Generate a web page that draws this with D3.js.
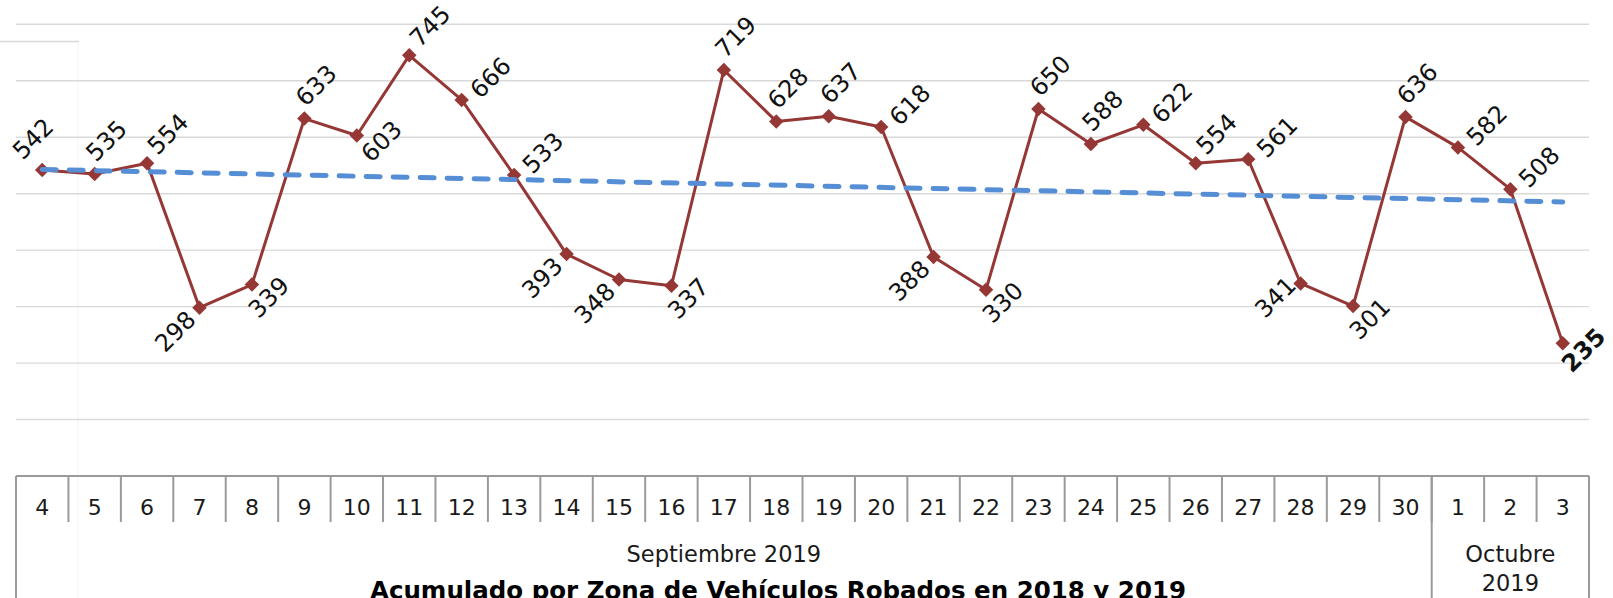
<!DOCTYPE html>
<html>
<head>
<meta charset="utf-8">
<script src="https://cdn.jsdelivr.net/npm/d3@7"></script>
<style>
  body { margin: 0; background: #fff; }
  svg { display: block; font-family: "DejaVu Sans", sans-serif; }
</style>
</head>
<body>
<div id="chart"></div>
<script>
// Days shown on the category axis (Sept 4 - Oct 3, 2019)
const days = [4, 5, 6, 7, 8, 9, 10, 11, 12, 13, 14, 15, 16, 17, 18, 19, 20,
              21, 22, 23, 24, 25, 26, 27, 28, 29, 30, 1, 2, 3];

// Robbed vehicles per day
const robos = [542, 535, 554, 298, 339, 633, 603, 745, 666, 533, 393, 348, 337,
               719, 628, 637, 618, 388, 330, 650, 588, 622, 554, 561, 341, 301,
               636, 582, 508, 235];

// Month groups under the day labels
const months = ['Septiembre 2019', 'Octubre 2019'];
const monthDays = [27, 3];

// Where each data label sits relative to its point
const labelSide = ['al', 'a', 'a2', 'bl', 'br', 'a', 'r', 'a2', 'ar', 'ar',
                   'bl', 'bl', 'br', 'a', 'a', 'a', 'ar', 'bl', 'br', 'a',
                   'a', 'ar', 'a2', 'ar', 'l', 'br', 'a', 'ar', 'ar', 'r2'];

const yTicks = [100, 200, 300, 400, 500, 600, 700, 800];

const title = 'Acumulado por Zona de Vehículos Robados en 2018 y 2019';

const width = 1613, height = 598;
const plot = { left: 16, right: 1589, top: 24.3, bottom: 476 };

const svg = d3.select('#chart').append('svg')
    .attr('width', width)
    .attr('height', height);

const x = d3.scaleBand()
    .domain(d3.range(days.length))
    .range([plot.left, plot.right])
    .padding(0);

const y = d3.scaleLinear()
    .domain([0, 800])
    .range([plot.bottom, plot.top]);

const cx = i => x(i) + x.bandwidth() / 2;

// stray frame from the slide, top-left corner
svg.append('line')
    .attr('x1', 0).attr('x2', 79).attr('y1', 41.5).attr('y2', 41.5)
    .style('stroke', '#d9d9d9').style('stroke-width', 1.5);
svg.append('line')
    .attr('x1', 78).attr('x2', 78).attr('y1', 42).attr('y2', height)
    .style('stroke', '#f4f4f4').style('stroke-width', 1);

// horizontal gridlines
svg.append('g')
    .selectAll('line')
    .data(yTicks)
    .join('line')
    .attr('x1', plot.left)
    .attr('x2', plot.right)
    .attr('y1', d => y(d))
    .attr('y2', d => y(d))
    .style('stroke', '#d9d9d9')
    .style('stroke-width', 1.4);

// category axis box
const axisColor = '#9a9a9a';
const axisG = svg.append('g');

axisG.append('line')
    .attr('x1', plot.left).attr('x2', plot.right)
    .attr('y1', y(0)).attr('y2', y(0))
    .style('stroke', axisColor).style('stroke-width', 2);

// short ticks between days
axisG.selectAll('line.tick')
    .data(d3.range(1, days.length))
    .join('line')
    .attr('class', 'tick')
    .attr('x1', i => x(i)).attr('x2', i => x(i))
    .attr('y1', y(0)).attr('y2', y(0) + 46)
    .style('stroke', axisColor).style('stroke-width', 2);

axisG.selectAll('text.day')
    .data(days)
    .join('text')
    .attr('class', 'day')
    .attr('x', (d, i) => cx(i))
    .attr('y', 515)
    .attr('text-anchor', 'middle')
    .style('font-size', '22px')
    .style('fill', '#1a1a1a')
    .text(d => d);

// month groups
let start = 0;
const groups = months.map((m, k) => {
    const g = { name: m, from: start, to: start + monthDays[k] };
    start += monthDays[k];
    return g;
});

const bounds = [0].concat(groups.map(g => g.to));
axisG.selectAll('line.group')
    .data(bounds)
    .join('line')
    .attr('class', 'group')
    .attr('x1', i => i < days.length ? x(i) : plot.right)
    .attr('x2', i => i < days.length ? x(i) : plot.right)
    .attr('y1', y(0)).attr('y2', height)
    .style('stroke', axisColor).style('stroke-width', 2);

groups.forEach(g => {
    const left = x(g.from);
    const right = g.to < days.length ? x(g.to) : plot.right;
    const mid = (left + right) / 2;
    const t = axisG.append('text')
        .attr('x', mid)
        .attr('y', 562)
        .attr('text-anchor', 'middle')
        .style('font-size', '22.5px')
        .style('fill', '#1a1a1a')
        .text(g.name);
    // wrap onto two lines when the group is too narrow
    if (t.node().getComputedTextLength() > right - left - 10) {
        const words = g.name.split(' ');
        t.text(null);
        words.forEach((w, j) => {
            t.append('tspan')
                .attr('x', mid)
                .attr('dy', j === 0 ? 0 : 29)
                .text(w);
        });
    }
});

// series line
const line = d3.line()
    .x((d, i) => cx(i))
    .y(d => y(d));

svg.append('path')
    .datum(robos)
    .attr('d', line)
    .style('fill', 'none')
    .style('stroke', '#953735')
    .style('stroke-width', 3)
    .style('stroke-linejoin', 'round');

// diamond markers
const diamond = d3.symbol().type(d3.symbolSquare).size(105);
svg.append('g')
    .selectAll('path')
    .data(robos)
    .join('path')
    .attr('d', diamond)
    .attr('transform', (d, i) => `translate(${cx(i)},${y(d)}) rotate(45)`)
    .style('fill', '#953735');

// linear trend (least squares over the series)
const n = robos.length;
const meanI = d3.mean(d3.range(n));
const meanV = d3.mean(robos);
const slope = d3.sum(robos, (v, i) => (i - meanI) * (v - meanV)) /
              d3.sum(d3.range(n), i => (i - meanI) * (i - meanI));
const trend = [0, n - 1].map(i => [cx(i), y(meanV + slope * (i - meanI))]);

svg.append('path')
    .attr('d', d3.line()(trend))
    .style('fill', 'none')
    .style('stroke', '#558ed5')
    .style('stroke-width', 5)
    .style('stroke-dasharray', '14,13')
    .style('stroke-linecap', 'round');

// data labels, rotated
const offsets = {
    al: [-9, -31], a: [12, -33], a2: [21, -29], ar: [29, -22],
    r: [25, 6], r2: [21, 7], bl: [-24, 24], l: [-25, 14], br: [17, 13]
};

svg.append('g')
    .selectAll('text')
    .data(robos)
    .join('text')
    .attr('transform', (d, i) => {
        const o = offsets[labelSide[i]];
        return `translate(${cx(i) + o[0]},${y(d) + o[1]}) rotate(-45)`;
    })
    .attr('text-anchor', 'middle')
    .attr('dominant-baseline', 'central')
    .style('font-size', '24px')
    .style('font-weight', (d, i) => i === n - 1 ? 'bold' : 'normal')
    .style('fill', '#111')
    .text(d => d);

// chart title, partly cut by the bottom edge as in the source slide
svg.append('text')
    .attr('x', 778)
    .attr('y', 599)
    .attr('text-anchor', 'middle')
    .style('font-size', '24.5px')
    .style('font-weight', 'bold')
    .style('fill', '#000')
    .text(title);
</script>
</body>
</html>
